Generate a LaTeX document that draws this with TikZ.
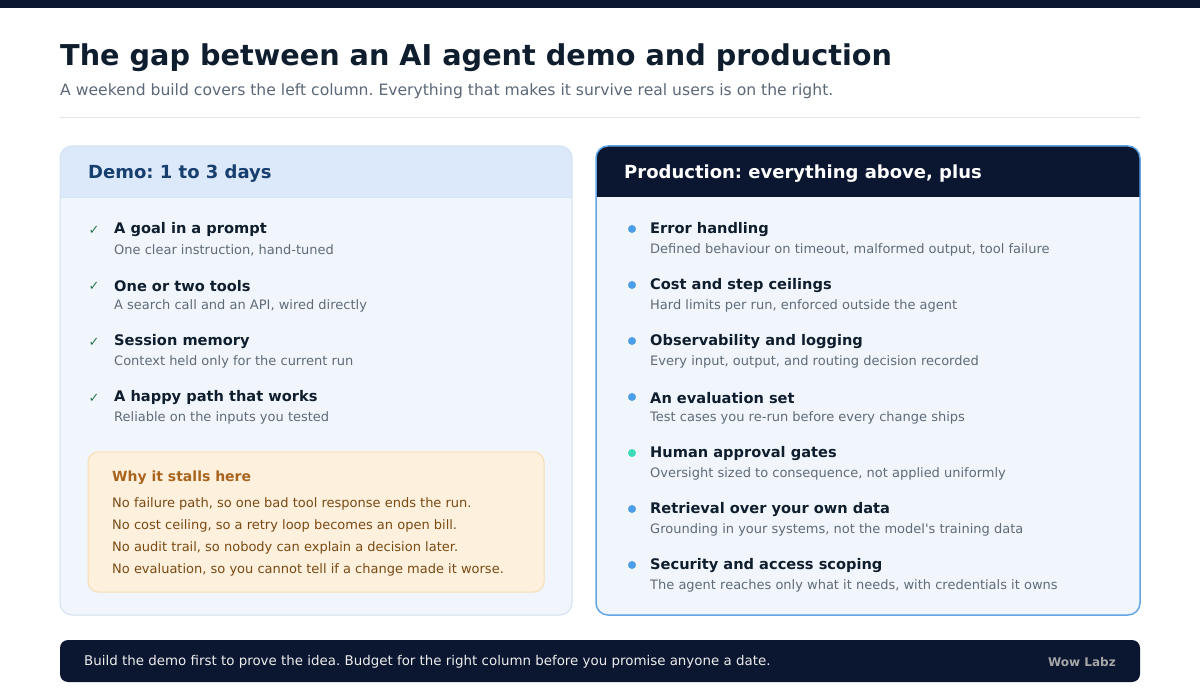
\documentclass[tikz,border=0pt]{standalone}
\usepackage{fontspec}
\setmainfont{DejaVu Sans}[Ligatures=ResetAll]
\frenchspacing
\begin{document}
\definecolor{navy}{HTML}{0B1630}
\definecolor{hdrblue}{HTML}{DCE9FB}
\definecolor{bodyblue}{HTML}{F0F6FC}
\definecolor{lborder}{HTML}{D3E2F2}
\definecolor{rborder}{HTML}{62A6E6}
\definecolor{titlec}{HTML}{0F1E2E}
\definecolor{subc}{HTML}{5B6878}
\definecolor{descc}{HTML}{5F6B78}
\definecolor{democ}{HTML}{163E6E}
\definecolor{checkc}{HTML}{2E7D4F}
\definecolor{dotc}{HTML}{4C9EEB}
\definecolor{tealc}{HTML}{3DDBB8}
\definecolor{warnfill}{HTML}{FDF0DC}
\definecolor{warnborder}{HTML}{F6DDB4}
\definecolor{warntitle}{HTML}{A8641E}
\definecolor{warntext}{HTML}{7A4A14}
\begin{tikzpicture}[x=1pt,y=-1pt,
  itemt/.style={anchor=west,inner sep=0pt,font=\fontsize{14.6}{18}\selectfont\bfseries,text=titlec},
  itemd/.style={anchor=west,inner sep=0pt,font=\fontsize{13}{16}\selectfont,text=descc},
  warn/.style={anchor=west,inner sep=0pt,font=\fontsize{13}{16}\selectfont,text=warntext},
  hdr/.style={anchor=west,inner sep=0pt,font=\fontsize{18}{22}\selectfont\bfseries}]
\useasboundingbox (0,0) rectangle (1200,700);
\fill[white] (0,0) rectangle (1200,700);
\fill[navy] (0,0) rectangle (1200,8);
\node[anchor=west,inner sep=0pt,font=\fontsize{28.7}{34}\selectfont\bfseries,text=titlec] (title) at (60,58) {The gap between an AI agent demo and production};
\node[anchor=west,inner sep=0pt,font=\fontsize{15.6}{19}\selectfont,text=subc] (sub) at (60,91) {A weekend build covers the left column. Everything that makes it survive real users is on the right.};
\draw[gray!20,line width=1pt] (60,118) -- (1140,118);
% left card
\fill[bodyblue,rounded corners=12pt] (60,146) rectangle (572,615);
\begin{scope}
\clip[rounded corners=12pt] (60,146) rectangle (572,615);
\fill[hdrblue] (60,146) rectangle (572,197);
\end{scope}
\draw[lborder] (60,197) -- (572,197);
\draw[lborder,line width=1pt,rounded corners=12pt] (60,146) rectangle (572,615);
\node[hdr,text=democ] (lh) at (88,174) {Demo: 1 to 3 days};
\foreach \i/\t/\d in {0/A goal in a prompt/{One clear instruction, hand-tuned},1/One or two tools/{A search call and an API, wired directly},2/Session memory/Context held only for the current run,3/A happy path that works/Reliable on the inputs you tested}{
  \node[anchor=center,inner sep=0pt,font=\fontsize{13}{16}\selectfont,text=checkc] (c\i) at (94,230+56*\i) {✓};
  \node[itemt] (lt\i) at (114,230+56*\i) {\t};
  \node[itemd] (ld\i) at (114,250+56*\i) {\d};
}
\filldraw[fill=warnfill,draw=warnborder,line width=1pt,rounded corners=10pt] (88,452) rectangle (544,592);
\node[anchor=west,inner sep=0pt,font=\fontsize{14}{17}\selectfont\bfseries,text=warntitle] (wt) at (112,478) {Why it stalls here};
\node[warn] (w1) at (112,504) {No failure path, so one bad tool response ends the run.};
\node[warn] (w2) at (112,526) {No cost ceiling, so a retry loop becomes an open bill.};
\node[warn] (w3) at (112,548) {No audit trail, so nobody can explain a decision later.};
\node[warn] (w4) at (112,570) {No evaluation, so you cannot tell if a change made it worse.};
% right card
\fill[bodyblue,rounded corners=12pt] (596,146) rectangle (1140,615);
\begin{scope}
\clip[rounded corners=12pt] (596,146) rectangle (1140,615);
\fill[navy] (596,146) rectangle (1140,197);
\end{scope}
\draw[rborder,line width=1.5pt,rounded corners=12pt] (596,146) rectangle (1140,615);
\node[hdr,text=white] (rh) at (624,174) {Production: everything above, plus};
\foreach \i/\t/\d/\c in {0/Error handling/{Defined behaviour on timeout, malformed output, tool failure}/dotc,
 1/Cost and step ceilings/{Hard limits per run, enforced outside the agent}/dotc,
 2/Observability and logging/{Every input, output, and routing decision recorded}/dotc,
 3/An evaluation set/Test cases you re-run before every change ships/dotc,
 4/Human approval gates/{Oversight sized to consequence, not applied uniformly}/tealc,
 5/Retrieval over your own data/{Grounding in your systems, not the model\textquotesingle s training data}/dotc,
 6/Security and access scoping/{The agent reaches only what it needs, with credentials it owns}/dotc}{
  \fill[\c] (632,229+56*\i) circle (4pt);
  \node[itemt] (rt\i) at (650,230+56*\i) {\t};
  \node[itemd] (rd\i) at (650,250+56*\i) {\d};
}
% footer
\fill[navy,rounded corners=8pt] (60,640) rectangle (1140,682);
\node[anchor=west,inner sep=0pt,font=\fontsize{13.4}{16}\selectfont,text=gray!15] (ft) at (84,662) {Build the demo first to prove the idea. Budget for the right column before you promise anyone a date.};
\node[anchor=east,inner sep=0pt,font=\fontsize{12}{15}\selectfont\bfseries,text=gray!70] (brand) at (1116,662) {Wow Labz};
\end{tikzpicture}
\end{document}
